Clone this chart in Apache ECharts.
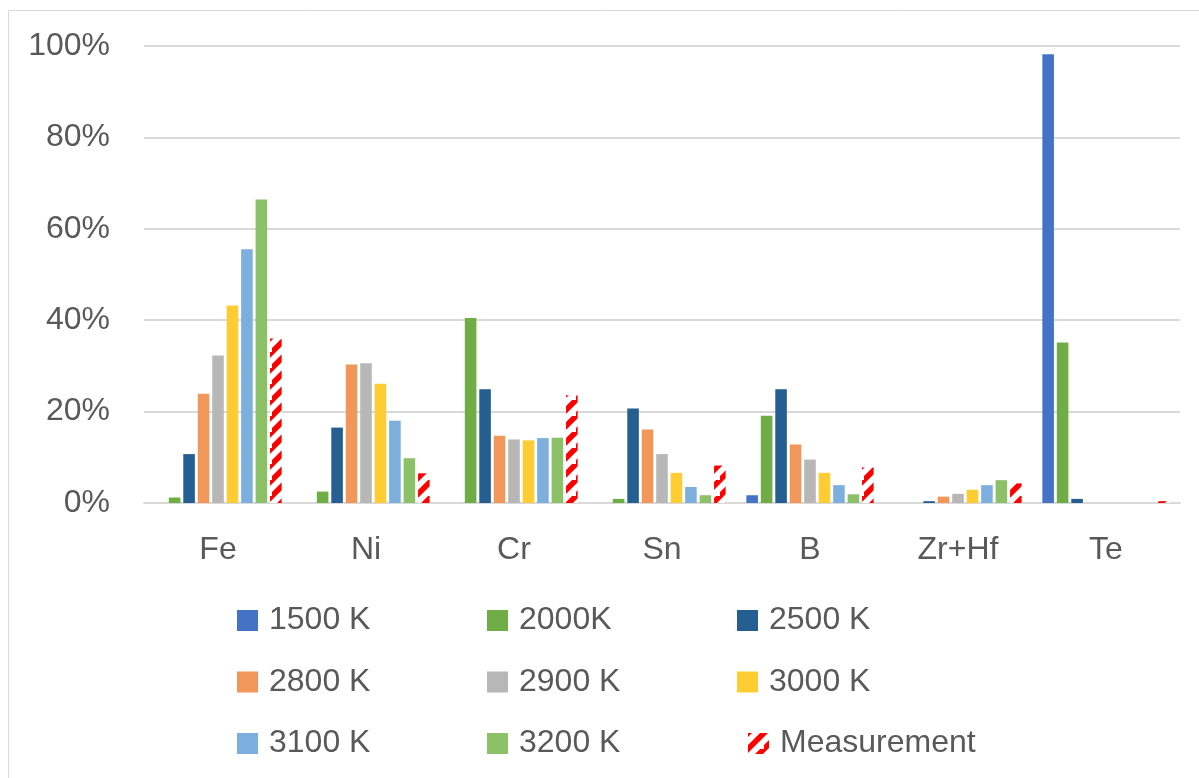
<!DOCTYPE html>
<html>
<head>
<meta charset="utf-8">
<script src="https://cdn.jsdelivr.net/npm/echarts@6/dist/echarts.min.js"></script>
<style>
html,body{margin:0;padding:0;background:#fff;}
#chart{width:1199px;height:778px;}
</style>
</head>
<body>
<div id="chart"></div>
<script>
const categories = ['Fe', 'Ni', 'Cr', 'Sn', 'B', 'Zr+Hf', 'Te'];
const seriesNames = ['1500 K', '2000K', '2500 K', '2800 K', '2900 K', '3000 K', '3100 K', '3200 K', 'Measurement'];
const v1500 = [0, 0, 0, 0, 1.7, 0, 98.2];
const v2000 = [1.2, 2.5, 40.5, 0.9, 19.1, 0, 35.1];
const v2500 = [10.7, 16.5, 24.9, 20.7, 24.9, 0.4, 0.9];
const v2800 = [23.9, 30.3, 14.7, 16.1, 12.8, 1.4, 0];
const v2900 = [32.3, 30.6, 13.9, 10.7, 9.5, 2.0, 0];
const v3000 = [43.2, 26.1, 13.7, 6.6, 6.6, 2.9, 0];
const v3100 = [55.5, 18.0, 14.2, 3.5, 3.9, 3.9, 0];
const v3200 = [66.4, 9.8, 14.3, 1.7, 1.9, 5.0, 0];
const vMeasurement = [36.0, 6.5, 23.6, 8.2, 7.8, 4.3, 0.4];
const yTicks = [0, 20, 40, 60, 80, 100];

const seriesValues = [v1500, v2000, v2500, v2800, v2900, v3000, v3100, v3200, vMeasurement];

function makeStripePattern() {
  const s = 16;
  const c = document.createElement('canvas');
  c.width = s; c.height = s;
  const ctx = c.getContext('2d');
  ctx.fillStyle = '#ffffff';
  ctx.fillRect(0, 0, s, s);
  ctx.strokeStyle = '#ff0000';
  ctx.lineWidth = 5.6;
  ctx.lineCap = 'butt';
  ctx.beginPath();
  ctx.moveTo(-4, s + 4); ctx.lineTo(s + 4, -4);
  ctx.moveTo(-4 - s, s + 4); ctx.lineTo(4, -4);
  ctx.moveTo(s - 4, 2 * s + 4); ctx.lineTo(2 * s + 4, s - 4);
  ctx.stroke();
  return c;
}
const stripe = { image: makeStripePattern(), repeat: 'repeat' };

const colors = ['#4472C4', '#70AD47', '#255E91', '#F1975A', '#B7B7B7', '#FFCD33', '#7CAFDD', '#8CC168', stripe];

const FONT = 'Liberation Sans';
const TXT = '#595959';

const chart = echarts.init(document.getElementById('chart'), null, { renderer: 'canvas' });

const legendBase = {
  orient: 'vertical',
  padding: 0,
  itemWidth: 21,
  itemHeight: 21,
  itemGap: 29.5,
  icon: 'rect',
  selectedMode: false,
  textStyle: { fontFamily: FONT, fontSize: 32, color: TXT, padding: [0, 0, 0, 6] }
};

const option = {
  backgroundColor: '#ffffff',
  animation: false,
  graphic: [{
    type: 'rect',
    shape: { x: 8.5, y: 10.5, width: 1300, height: 900 },
    style: { fill: 'none', stroke: '#D9D9D9', lineWidth: 1 },
    silent: true,
    z: -10
  }],
  legend: [
    Object.assign({}, legendBase, { left: 237, top: 604.5, data: [seriesNames[0], seriesNames[3], seriesNames[6]] }),
    Object.assign({}, legendBase, { left: 487, top: 604.5, data: [seriesNames[1], seriesNames[4], seriesNames[7]] }),
    Object.assign({}, legendBase, { left: 737, top: 604.5, data: [seriesNames[2], seriesNames[5]] }),
    Object.assign({}, legendBase, { left: 748, top: 727.5, data: [seriesNames[8]] })
  ],
  grid: { left: 144, right: 19, top: 46, bottom: 275, containLabel: false },
  xAxis: {
    type: 'category',
    data: categories,
    axisLine: { show: true, lineStyle: { color: '#D9D9D9', width: 2 } },
    axisTick: { show: false },
    axisLabel: { fontFamily: FONT, fontSize: 32, color: TXT, margin: 31 }
  },
  yAxis: {
    type: 'value',
    min: yTicks[0],
    max: yTicks[yTicks.length - 1],
    interval: yTicks[1] - yTicks[0],
    axisLine: { show: false },
    axisTick: { show: false },
    splitLine: { lineStyle: { color: '#D9D9D9', width: 2 } },
    axisLabel: { fontFamily: FONT, fontSize: 32, color: TXT, margin: 34, formatter: '{value}%' }
  },
  series: seriesNames.map((name, i) => ({
    name: name,
    type: 'bar',
    data: seriesValues[i],
    barGap: '25%',
    barCategoryGap: '14%',
    itemStyle: { color: colors[i] }
  }))
};

chart.setOption(option);
</script>
</body>
</html>
